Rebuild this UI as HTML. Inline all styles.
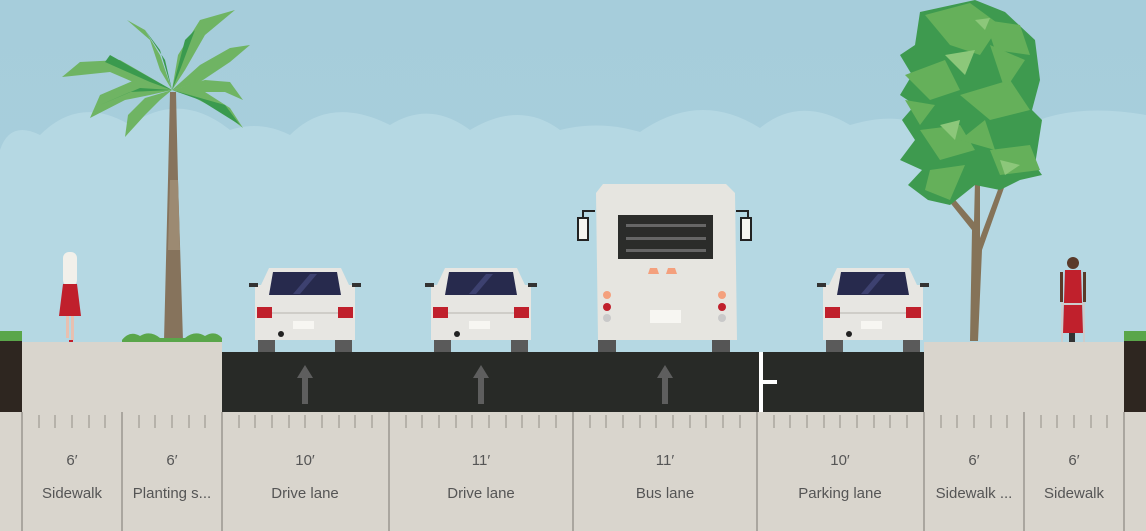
<!DOCTYPE html>
<html><head><meta charset="utf-8"><style>
html,body{margin:0;padding:0;background:#d9d5cd}
svg{display:block}
text{font-family:"Liberation Sans",sans-serif;fill:#555;font-size:15px;text-anchor:middle}
</style></head><body>
<svg width="1146" height="531" viewBox="0 0 1146 531" xmlns="http://www.w3.org/2000/svg">
<defs>
<linearGradient id="sky" x1="0" y1="0" x2="0" y2="1"><stop offset="0" stop-color="#a6cddb"/><stop offset="1" stop-color="#abd0dd"/></linearGradient>
<g id="car">
 <rect x="3" y="68" width="17" height="16" fill="#5a5a5a"/>
 <rect x="80" y="68" width="17" height="16" fill="#5a5a5a"/>
 <path d="M14 0 H86 L94 17 H100 V72 H0 V17 H6 Z" fill="#e7e6e2"/>
 <path d="M18 4 H82 L86 27 H14 Z" fill="#272a4d"/>
 <path d="M55 6 L62 6 L45 26 L38 26 Z" fill="#3d4170"/>
 <rect x="-6" y="15" width="9" height="4" fill="#333"/>
 <rect x="97" y="15" width="9" height="4" fill="#333"/>
 <rect x="2" y="39" width="15" height="11" fill="#c0202c"/>
 <rect x="83" y="39" width="15" height="11" fill="#c0202c"/>
 <rect x="17" y="44" width="66" height="2" fill="#cfcdc8"/>
 <rect x="38" y="53" width="21" height="8" fill="#f7f6f2"/>
 <circle cx="26" cy="66" r="3" fill="#222"/>
</g>
</defs>
<rect width="1146" height="531" fill="url(#sky)"/>
<path d="M0 150 Q10 120 40 135 Q80 95 130 125 Q180 90 230 130 Q260 120 290 135 Q330 95 390 125 Q430 100 470 130 Q520 100 560 130 Q600 120 640 132 Q700 90 760 128 Q800 95 850 125 Q900 110 930 130 Q980 110 1010 135 Q1060 100 1146 115 V531 H0 Z" fill="#b5d8e3"/>
<!-- palm -->
<path d="M164 341 L168 180 L170 92 L176 92 L178 180 L183 341 Z" fill="#86735c"/>
<path d="M170 180 L178 180 L180 250 L168 250 Z" fill="#9c8a72"/>
<g fill="#6fb463">
<path d="M172 90 L120 60 L80 62 L62 77 L110 72 L140 85 Z"/>
<path d="M172 90 L135 80 L100 95 L90 118 L125 100 L150 95 Z"/>
<path d="M172 90 L145 98 L128 115 L125 137 L145 115 L160 100 Z"/>
<path d="M172 90 L160 55 L145 30 L127 20 L150 40 L160 70 Z"/>
<path d="M172 90 L178 55 L200 20 L235 10 L205 35 L185 70 Z"/>
<path d="M172 90 L200 65 L230 48 L250 45 L230 62 L200 82 Z"/>
<path d="M172 90 L205 80 L230 82 L243 100 L225 92 L195 92 Z"/>
<path d="M172 90 L205 92 L230 108 L243 128 L222 112 L195 98 Z"/>
</g>
<g fill="#3a9a4e">
<path d="M172 90 L110 55 L105 62 L150 82 Z"/><path d="M172 90 L185 40 L195 30 L180 70 Z"/><path d="M172 90 L225 105 L240 125 L200 100 Z"/><path d="M172 90 L130 92 L100 105 L140 88 Z"/><path d="M172 90 L165 60 L145 30 L160 50 Z"/>
</g>
<path d="M122 340 Q130 330 140 336 Q150 330 160 338 L185 338 Q195 330 205 336 Q215 330 222 338 V342 H122Z" fill="#5aa64a"/>
<!-- tree -->
<path d="M970 341 L972 230 L940 190 L945 188 L974 222 L975 180 L980 180 L980 238 L1012 152 L1016 154 L982 250 L978 341 Z" fill="#857358"/>
<path d="M920 12 L975 0 L1005 12 L1035 40 L1040 80 L1032 110 L1042 120 L1035 165 L1042 175 L1020 180 L1000 190 L975 185 L950 205 L928 200 L908 185 L922 170 L900 160 L915 140 L902 120 L915 105 L900 95 L912 75 L900 55 L915 45 Z" fill="#3e9a4f"/>
<g fill="#65b05a">
<path d="M925 15 L970 3 L1000 25 L980 55 L950 45 Z"/><path d="M905 75 L945 60 L960 90 L930 100 Z"/><path d="M960 95 L1010 80 L1030 110 L990 120 Z"/><path d="M920 130 L960 125 L975 150 L940 160 Z"/><path d="M990 150 L1030 145 L1040 170 L1000 175 Z"/><path d="M930 170 L965 165 L950 200 L925 190 Z"/><path d="M985 20 L1020 25 L1030 55 L995 50 Z"/><path d="M905 100 L935 105 L920 125 Z"/><path d="M990 45 L1025 60 L1005 90 Z"/><path d="M960 140 L985 120 L995 150 Z"/>
</g>
<g fill="#8cc77a"><path d="M945 55 L975 50 L965 75 Z"/><path d="M940 125 L960 120 L955 140 Z"/><path d="M975 20 L990 18 L985 30 Z"/><path d="M1000 160 L1020 165 L1005 175 Z"/></g>
<!-- people -->
<g><rect x="63" y="252" width="14" height="34" rx="6" fill="#f2f0ea"/><path d="M63 284 L77 284 L81 316 L59 316 Z" fill="#c0202c"/><rect x="66" y="316" width="3" height="22" fill="#e8c0b0"/><rect x="71" y="316" width="3" height="24" fill="#e8c0b0"/><rect x="69" y="340" width="4" height="6" fill="#c0202c"/></g>
<g><circle cx="1073" cy="263" r="6" fill="#5a3a2a"/><path d="M1065 270 L1081 270 L1083 333 L1063 333 Z" fill="#c0202c"/><rect x="1060" y="272" width="3" height="30" fill="#5a3a2a"/><rect x="1083" y="272" width="3" height="30" fill="#5a3a2a"/><rect x="1061" y="302" width="2" height="46" fill="#ccc"/><rect x="1083" y="302" width="2" height="46" fill="#ccc"/><rect x="1061" y="303" width="24" height="2" fill="#ccc"/><rect x="1069" y="333" width="6" height="14" fill="#333"/></g>
<!-- ground -->
<rect x="0" y="341" width="22" height="72" fill="#2e2620"/>
<rect x="1124" y="341" width="22" height="72" fill="#2e2620"/>
<rect x="0" y="331" width="22" height="10" fill="#5aa64a"/>
<rect x="1124" y="331" width="22" height="10" fill="#5aa64a"/>
<rect x="22" y="342" width="200" height="189" fill="#d9d5cd"/>
<rect x="924" y="342" width="200" height="189" fill="#d9d5cd"/>
<rect x="0" y="412" width="1146" height="119" fill="#d9d5cd"/>
<rect x="222" y="352" width="702" height="60" fill="#282a27"/>
<g fill="#5e5e5e"><path d="M305 365 L313 378 L308 378 L308 404 L302 404 L302 378 L297 378 Z"/><path d="M481 365 L489 378 L484 378 L484 404 L478 404 L478 378 L473 378 Z"/><path d="M665 365 L673 378 L668 378 L668 404 L662 404 L662 378 L657 378 Z"/></g>
<rect x="759" y="352" width="4" height="60" fill="#fff"/><rect x="763" y="380" width="14" height="4" fill="#fff"/>
<use href="#car" x="255" y="268"/>
<use href="#car" x="431" y="268"/>
<use href="#car" x="823" y="268"/>
<!-- bus -->
<g>
<rect x="598" y="338" width="18" height="14" fill="#555"/><rect x="712" y="338" width="18" height="14" fill="#555"/>
<path d="M603 184 H726 L735 193 L737 340 H598 L596 193 Z" fill="#e6e5e0"/>
<rect x="618" y="215" width="95" height="44" fill="#2b2c2a"/>
<g fill="#666"><rect x="626" y="224" width="80" height="3"/><rect x="626" y="237" width="80" height="3"/><rect x="626" y="249" width="80" height="3"/></g>
<path d="M650 268 L657 268 L659 274 L648 274 Z M668 268 L675 268 L677 274 L666 274 Z" fill="#f4a07d"/>
<circle cx="607" cy="295" r="4" fill="#f4a07d"/><circle cx="607" cy="307" r="4" fill="#c0202c"/><circle cx="607" cy="318" r="4" fill="#c9c9c9"/>
<circle cx="722" cy="295" r="4" fill="#f4a07d"/><circle cx="722" cy="307" r="4" fill="#c0202c"/><circle cx="722" cy="318" r="4" fill="#c9c9c9"/>
<rect x="650" y="310" width="31" height="13" fill="#f7f6f2"/>
<path d="M595 211 H583 V218" stroke="#222" stroke-width="2" fill="none"/><rect x="578" y="218" width="10" height="22" fill="#f5f5f0" stroke="#222" stroke-width="2"/>
<path d="M736 211 H748 V218" stroke="#222" stroke-width="2" fill="none"/><rect x="741" y="218" width="10" height="22" fill="#f5f5f0" stroke="#222" stroke-width="2"/>
</g>
<g stroke="#aaa69f" stroke-width="2">
<line x1="22" y1="412" x2="22" y2="531"/><line x1="122" y1="412" x2="122" y2="531"/><line x1="222" y1="412" x2="222" y2="531"/><line x1="389" y1="412" x2="389" y2="531"/><line x1="573" y1="412" x2="573" y2="531"/><line x1="757" y1="412" x2="757" y2="531"/><line x1="924" y1="412" x2="924" y2="531"/><line x1="1024" y1="412" x2="1024" y2="531"/><line x1="1124" y1="412" x2="1124" y2="531"/>
</g>
<g stroke="#aaa69f" stroke-width="1.5">
<path d="M39 415V428M55 415V428M72 415V428M89 415V428M105 415V428
M139 415V428M155 415V428M172 415V428M189 415V428M205 415V428
M239 415V428M255 415V428M272 415V428M289 415V428M305 415V428M322 415V428M339 415V428M355 415V428M372 415V428
M406 415V428M422 415V428M439 415V428M456 415V428M472 415V428M489 415V428M506 415V428M522 415V428M539 415V428M556 415V428
M590 415V428M606 415V428M623 415V428M640 415V428M656 415V428M673 415V428M690 415V428M706 415V428M723 415V428M740 415V428
M774 415V428M790 415V428M807 415V428M824 415V428M840 415V428M857 415V428M874 415V428M890 415V428M907 415V428
M941 415V428M957 415V428M974 415V428M991 415V428M1007 415V428
M1041 415V428M1057 415V428M1074 415V428M1091 415V428M1107 415V428"/>
</g>
<text x="72" y="465">6′</text><text x="72" y="498">Sidewalk</text>
<text x="172" y="465">6′</text><text x="172" y="498">Planting s...</text>
<text x="305" y="465">10′</text><text x="305" y="498">Drive lane</text>
<text x="481" y="465">11′</text><text x="481" y="498">Drive lane</text>
<text x="665" y="465">11′</text><text x="665" y="498">Bus lane</text>
<text x="840" y="465">10′</text><text x="840" y="498">Parking lane</text>
<text x="974" y="465">6′</text><text x="974" y="498">Sidewalk ...</text>
<text x="1074" y="465">6′</text><text x="1074" y="498">Sidewalk</text>
</svg>
</body></html>
